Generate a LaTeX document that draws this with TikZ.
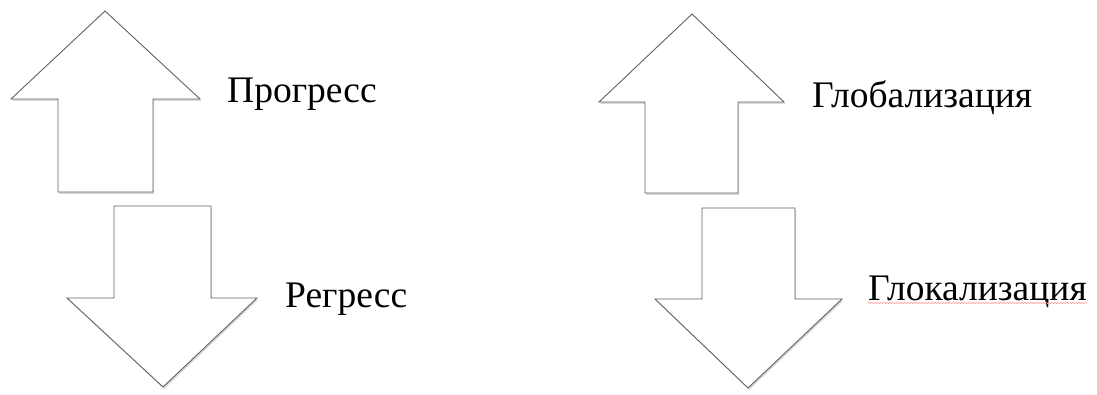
\documentclass[tikz,border=0pt]{standalone}
\usepackage{fontspec}
\setmainfont{Liberation Serif}
\usetikzlibrary{shadows,decorations.pathmorphing}
\tikzset{
  bigarrow/.style={draw=black!62, line width=0.9pt, fill=white, line join=miter,
    drop shadow={shadow xshift=1.2pt, shadow yshift=-1.8pt, opacity=0.3, fill=black!50}},
  lbl/.style={anchor=base west, inner sep=0pt, font=\fontsize{37.5}{42}\selectfont},
  squiggle/.style={draw=red!40, line width=0.6pt, decorate,
    decoration={snake, amplitude=0.7pt, segment length=3pt}}
}
\begin{document}
\begin{tikzpicture}[x=1pt,y=-1pt]
\useasboundingbox (0,0) rectangle (1097,394);
% up arrow 1
\path[bigarrow] (105,11) -- (200,99) -- (153,99) -- (153,192) -- (58,192) -- (58,99) -- (11,99) -- cycle;
% down arrow 1
\path[bigarrow] (114,206) -- (211,206) -- (211,298) -- (257,298) -- (163,387) -- (67,298) -- (114,298) -- cycle;
% up arrow 2
\path[bigarrow] (692,14) -- (784,102) -- (738,102) -- (738,193) -- (645,193) -- (645,102) -- (599,102) -- cycle;
% down arrow 2
\path[bigarrow] (702,208) -- (795,208) -- (795,299) -- (842,299) -- (748,388) -- (655,299) -- (702,299) -- cycle;
% labels
\node[lbl] (progress) at (227,102) {Прогресс};
\node[lbl] (regress) at (285,307) {Регресс};
\node[lbl] (global) at (812,107) {Глобализация};
\node[lbl] (glocal) at (868,300) {Глокализация};
\coordinate (sqA) at (868,303);
\coordinate (sqB) at (1087,303);
\path[squiggle] (sqA) -- (sqB);
\end{tikzpicture}
\end{document}
